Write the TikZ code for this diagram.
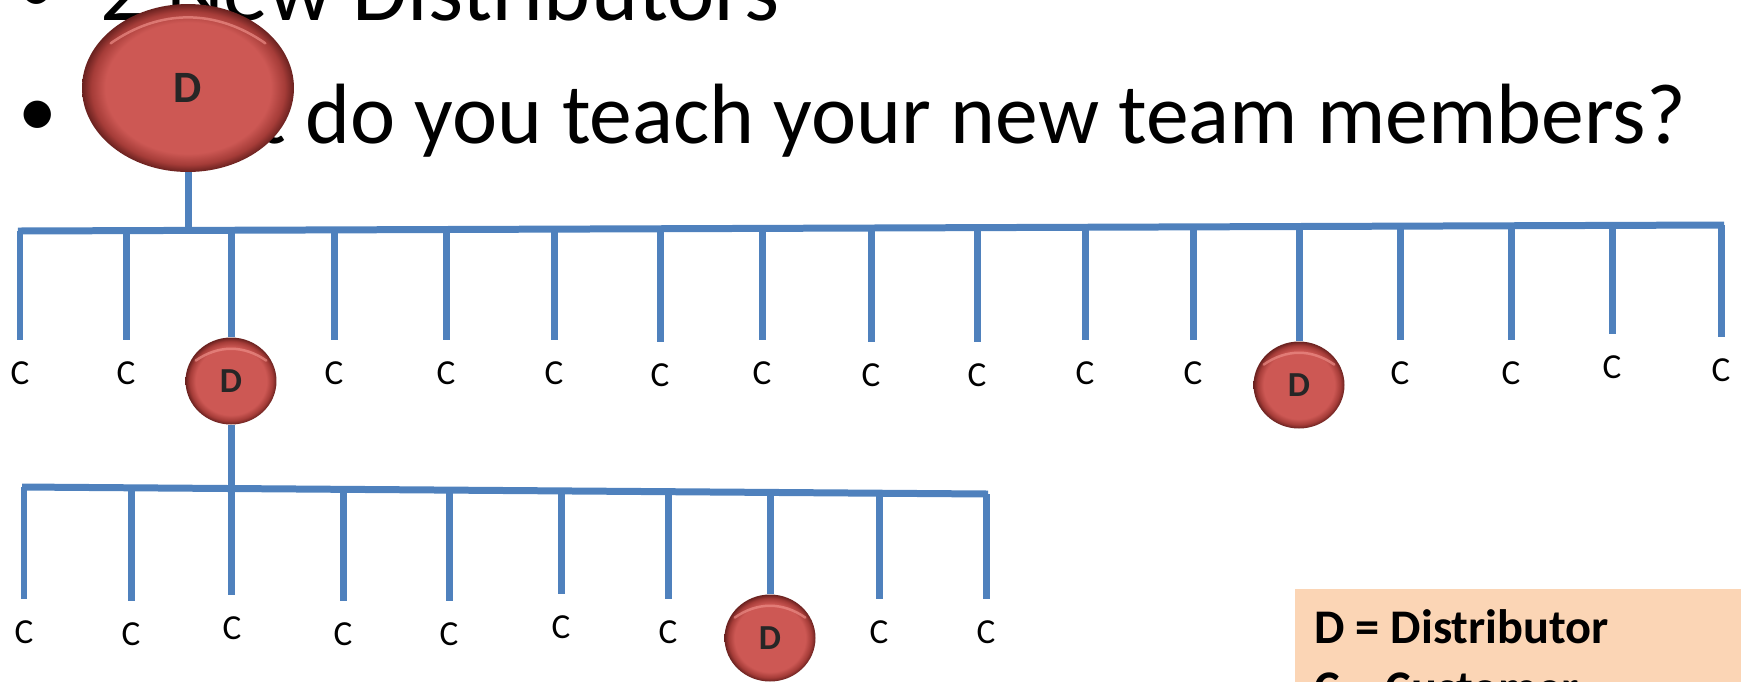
\documentclass[tikz,border=0pt]{standalone}
\usepackage{fontspec}
\setmainfont{Carlito}
\usetikzlibrary{shapes.geometric,calc}
\definecolor{barblue}{RGB}{79,129,189}
\definecolor{ballred}{RGB}{205,88,84}
\definecolor{ballmid}{RGB}{165,60,56}
\definecolor{balldark}{RGB}{105,33,31}
\definecolor{ballhl}{RGB}{236,140,134}
\definecolor{legendfill}{RGB}{251,213,181}
\definecolor{dtext}{RGB}{38,38,38}
\pgfdeclareradialshading{ballshade}{\pgfpoint{0bp}{0bp}}{color(0bp)=(ballred); color(19.5bp)=(ballred); color(22.8bp)=(ballmid); color(25bp)=(balldark); color(50bp)=(balldark)}
\pgfdeclarelayer{bg}
\pgfsetlayers{bg,main}
\begin{document}
\begin{tikzpicture}[x=0.02cm,y=-0.02cm,
  barline/.style={draw=barblue,line width=0.14cm},
  tickline/.style={draw=barblue,line width=0.14cm},
  toc/.style={tickline,shorten >=0.42cm},
  cnode/.style={font=\fontsize{20}{24}\selectfont, inner sep=0pt},
  ball/.style={ellipse, shade, shading=ballshade, inner sep=0pt, text=dtext,
     font=\bfseries\fontsize{20}{24}\selectfont, minimum width=1.82cm, minimum height=1.74cm},
  rootball/.style={ball, font=\bfseries\fontsize{25.5}{30}\selectfont, minimum width=4.24cm, minimum height=3.36cm},
  hl/.style={draw=ballhl, line width=0.05cm, opacity=0.7, line cap=round},
  titleone/.style={font=\fontsize{51}{60}\selectfont, inner sep=0pt},
  titletwo/.style={font=\fontsize{48.7}{58}\selectfont, inner sep=0pt},
  bullet/.style={font=\fontsize{44}{52}\selectfont, inner sep=0pt, anchor=base},
  legendbox/.style={fill=legendfill, inner sep=0pt, anchor=north west, minimum width=9cm, minimum height=2.4cm},
  legendtext/.style={font=\bfseries\fontsize{27.5}{33}\selectfont, inner sep=0pt, anchor=base west}
]
\useasboundingbox (0,0) rectangle (1741,681);
\clip (0,0) rectangle (1741,681);

% title text
\node[bullet] (b1) at (37,12) {•};
\node[titleone, anchor=base west] (l1) at (100,20) {2 New Distributors};
\node[bullet] (b2) at (38,136) {•};
\node[titletwo, anchor=base west] (l2) at (96,143) {What do you teach your new team members?};

% legend
\node[legendbox] (legbox) at (1295,589) {};
\node[legendtext] (leg1) at (1314,643) {D = Distributor};
\node[legendtext] (leg2) at (1314,704) {C = Customer};

% nodes, level 1
\node[rootball] (root) at (188,88) {D};
\node[cnode] (c1) at (20,373) {C};
\node[cnode] (c2) at (126,373) {C};
\node[ball] (d2) at (231,381) {D};
\node[cnode] (c4) at (334,373) {C};
\node[cnode] (c5) at (446,373) {C};
\node[cnode] (c6) at (554,373) {C};
\node[cnode] (c7) at (660,375) {C};
\node[cnode] (c8) at (762,373) {C};
\node[cnode] (c9) at (871,375) {C};
\node[cnode] (c10) at (977,375) {C};
\node[cnode] (c11) at (1085,373) {C};
\node[cnode] (c12) at (1193,373) {C};
\node[ball] (d3) at (1299,385) {D};
\node[cnode] (c14) at (1400,373) {C};
\node[cnode] (c15) at (1511,373) {C};
\node[cnode] (c16) at (1612,367) {C};
\node[cnode] (c17) at (1721,370) {C};

% level 2
\node[cnode] (e1) at (24,632) {C};
\node[cnode] (e2) at (131,634) {C};
\node[cnode] (e3) at (232,628) {C};
\node[cnode] (e4) at (343,634) {C};
\node[cnode] (e5) at (449,634) {C};
\node[cnode] (e6) at (561,627) {C};
\node[cnode] (e7) at (668,632) {C};
\node[ball] (d4) at (770,638) {D};
\node[cnode] (e9) at (879,632) {C};
\node[cnode] (e10) at (986,632) {C};

\foreach \b in {root,d2,d3,d4}{
  \draw[hl] ($(\b.150)!0.1!(\b.center)$) to[bend left=35] ($(\b.30)!0.1!(\b.center)$);
}

% bar 1
\coordinate (bar1L) at (18,231);
\coordinate (bar1R) at (1724,225);
\coordinate (rj) at (188,230.4);
\coordinate (t1) at (20,231.0);
\coordinate (t2) at (126,230.6);
\coordinate (t3) at (231,230.2);
\coordinate (t4) at (334,229.9);
\coordinate (t5) at (446,229.5);
\coordinate (t6) at (554,229.1);
\coordinate (t7) at (660,228.7);
\coordinate (t8) at (762,228.4);
\coordinate (t9) at (871,228.0);
\coordinate (t10) at (977,227.6);
\coordinate (t11) at (1085,227.2);
\coordinate (t12) at (1193,226.9);
\coordinate (t13) at (1299,226.5);
\coordinate (t14) at (1400,226.1);
\coordinate (t15) at (1511,225.7);
\coordinate (t16) at (1612,225.4);
\coordinate (t17) at (1721,225.0);
% bar 2
\coordinate (bar2L) at (22,487);
\coordinate (bar2R) at (988,494);
\coordinate (u1) at (24,487.0);
\coordinate (u2) at (131,487.8);
\coordinate (u4) at (343,489.3);
\coordinate (u5) at (449,490.1);
\coordinate (u6) at (561,490.9);
\coordinate (u7) at (668,491.7);
\coordinate (u8) at (770,492.4);
\coordinate (u9) at (879,493.2);
\coordinate (u10) at (986,494.0);

\begin{pgfonlayer}{bg}
\draw[toc] (t1) -- (t1 |- c1.north);
\draw[toc] (t2) -- (t2 |- c2.north);
\draw[tickline] (t3) -- (d2.north);
\draw[toc] (t4) -- (t4 |- c4.north);
\draw[toc] (t5) -- (t5 |- c5.north);
\draw[toc] (t6) -- (t6 |- c6.north);
\draw[toc] (t7) -- (t7 |- c7.north);
\draw[toc] (t8) -- (t8 |- c8.north);
\draw[toc] (t9) -- (t9 |- c9.north);
\draw[toc] (t10) -- (t10 |- c10.north);
\draw[toc] (t11) -- (t11 |- c11.north);
\draw[toc] (t12) -- (t12 |- c12.north);
\draw[tickline] (t13) -- (d3.north);
\draw[toc] (t14) -- (t14 |- c14.north);
\draw[toc] (t15) -- (t15 |- c15.north);
\draw[toc] (t16) -- (t16 |- c16.north);
\draw[toc] (t17) -- (t17 |- c17.north);
\draw[barline] (bar1L) -- (bar1R);
\draw[tickline] (root.south) -- (rj);

\draw[toc] (u1) -- (u1 |- e1.north);
\draw[toc] (u2) -- (u2 |- e2.north);
\draw[toc] (u4) -- (u4 |- e4.north);
\draw[toc] (u5) -- (u5 |- e5.north);
\draw[toc] (u6) -- (u6 |- e6.north);
\draw[toc] (u7) -- (u7 |- e7.north);
\draw[tickline] (u8) -- (d4.north);
\draw[toc] (u9) -- (u9 |- e9.north);
\draw[toc] (u10) -- (u10 |- e10.north);
\draw[barline] (bar2L) -- (bar2R);
\draw[toc] (d2.south) -- (d2.south |- e3.north);
\end{pgfonlayer}
\end{tikzpicture}
\end{document}
